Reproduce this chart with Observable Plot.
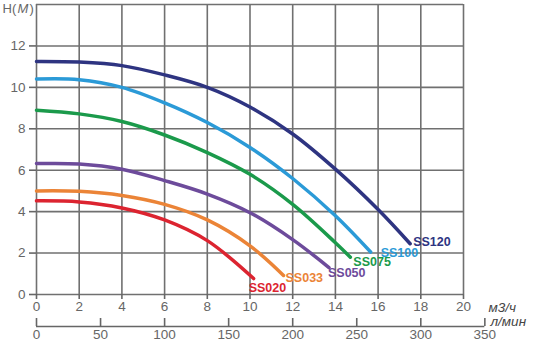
<!DOCTYPE html>
<html><head><meta charset="utf-8">
<script src="https://cdn.jsdelivr.net/npm/d3@7"></script>
<script src="https://cdn.jsdelivr.net/npm/@observablehq/plot@0.6"></script>
<style>
body{margin:0;background:#fff;}
g[aria-label="units"] text{letter-spacing:2.5px;}
</style></head><body><div id="chart"></div>
<script>
// ---- data ----
const flowTicks = [0,2,4,6,8,10,12,14,16,18,20];        // м3/ч
const lminTicks = [0,50,100,150,200,250,300,350];       // л/мин
const headTicks = [0,2,4,6,8,10,12];                    // H(м)
const headGrid  = [0,2,4,6,8,10,12,14];
const names  = ["SS120","SS100","SS075","SS050","SS033","SS020"];

const flowSS120 = [0,2,4,6,8,10,12,14,16,17.5];
const headSS120 = [11.25,11.22,11.05,10.6,10.0,9.05,7.75,6.05,4.1,2.45];
const flowSS100 = [0,2,4,6,8,10,12,14,15.65];
const headSS100 = [10.4,10.37,10.0,9.25,8.3,7.1,5.6,3.8,2.05];
const flowSS075 = [0,2,4,6,8,10,12,14,14.7];
const headSS075 = [8.9,8.72,8.35,7.7,6.85,5.8,4.35,2.5,1.8];
const flowSS050 = [0,2,4,6,8,10,12,13.7];
const headSS050 = [6.32,6.3,6.05,5.5,4.85,3.95,2.65,1.3];
const flowSS033 = [0,2,4,6,8,10,11.57];
const headSS033 = [5.0,4.98,4.78,4.35,3.6,2.35,0.92];
const flowSS020 = [0,2,4,6,8,10.17];
const headSS020 = [4.52,4.47,4.18,3.6,2.6,0.77];

// ---- styles ----
const colors = ["#2e3481","#2b9ad7","#1b9a4b","#6d4b9b","#eb8437","#dc2430"];
const labelDx = [3,10,3,-1,2,-5];
const labelDy = [-2,1,5,5,3,9];
const M3H_PER_LMIN = 60/1000;

const flows = [flowSS120,flowSS100,flowSS075,flowSS050,flowSS033,flowSS020];
const heads = [headSS120,headSS100,headSS075,headSS050,headSS033,headSS020];
const rows = names.flatMap((n,i) => flows[i].map((q,j) => ({name:n, q, h:heads[i][j]})));

const gridColor = "#707070";
const textColor = "#666";
const font = "Liberation Sans, Arial, sans-serif";

const labelMarks = names.map((n,i) => Plot.text([rows.filter(r=>r.name===n).at(-1)], {
  x:"q", y:"h", text:"name", fill: colors[i], dx: labelDx[i], dy: labelDy[i],
  textAnchor:"start", lineAnchor:"middle", fontWeight:"bold", fontSize:12.5
}));

const chart = Plot.plot({
  width: 542, height: 351,
  marginLeft: 36, marginRight: 79, marginTop: 4, marginBottom: 57,
  style: {fontFamily: font, fontSize: "13.5px", background: "#fff", color: textColor},
  x: {domain:[0,20], label: null},
  y: {domain:[0,14], label: null},
  color: {domain: names, range: colors},
  marks: [
    Plot.ruleX(flowTicks, {stroke: gridColor, strokeWidth: 1.6}),
    Plot.ruleY(headGrid, {stroke: gridColor, strokeWidth: 1.6}),
    Plot.line(rows, {x:"q", y:"h", z:"name", stroke:"name", curve:"catmull-rom", strokeWidth:3.5}),
    ...labelMarks,
    Plot.axisY(headTicks, {label: null, tickSize: 7, tickPadding: 4, color: textColor, strokeWidth: 1.6, fontSize: 13.5, tickFormat: d => d}),
    Plot.axisX(flowTicks, {label: null, anchor:"bottom", tickSize: 5, tickPadding: 2, color: textColor, strokeWidth: 1.6, fontSize: 13.5, tickFormat: d => d}),
    Plot.axisX(lminTicks.map(v => v*M3H_PER_LMIN), {label: null, anchor:"bottom", dy: 24, tickSize: 8, tickPadding: 3, color: textColor, strokeWidth: 1.6, fontSize: 13.5, tickFormat: d => Math.round(d/M3H_PER_LMIN)}),
    Plot.ruleY([0], {x1: 0, x2: lminTicks.at(-1)*M3H_PER_LMIN, dy: 32, stroke: textColor, strokeWidth: 1.6}),
    Plot.text(["H("], {frameAnchor:"top-left", dx:-34, dy:4.5, textAnchor:"start", lineAnchor:"middle", fill:textColor, fontSize:13}),
    Plot.text(["М"], {frameAnchor:"top-left", dx:-19, dy:4.5, textAnchor:"start", lineAnchor:"middle", fill:textColor, fontSize:13, fontStyle:"italic"}),
    Plot.text([")"], {frameAnchor:"top-left", dx:-7, dy:4.5, textAnchor:"start", lineAnchor:"middle", fill:textColor, fontSize:13}),
    Plot.text(["м3/ч"], {frameAnchor:"bottom-right", dx:25, dy:13, textAnchor:"start", lineAnchor:"middle", fill:"#444", fontSize:13.5, fontStyle:"italic", ariaLabel:"units"}),
    Plot.text(["л/мин"], {frameAnchor:"bottom-right", dx:27, dy:27, textAnchor:"start", lineAnchor:"middle", fill:"#444", fontSize:13.5, fontStyle:"italic", ariaLabel:"units"})
  ]
});
document.getElementById("chart").append(chart);
</script></body></html>
